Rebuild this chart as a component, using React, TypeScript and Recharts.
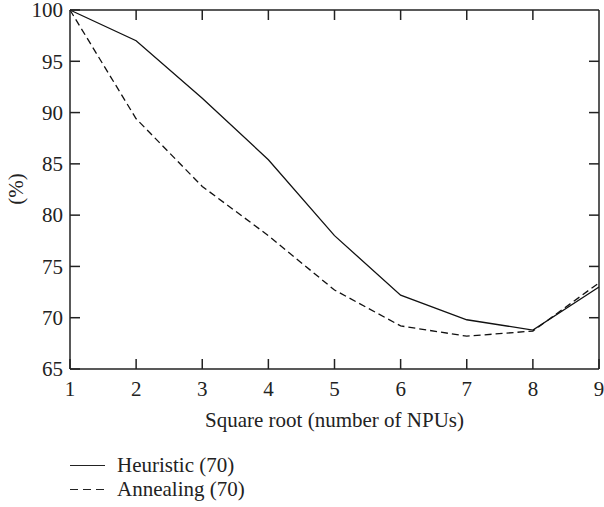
import React from "react";
import { LineChart, Line, XAxis, YAxis, Legend, ReferenceLine } from "recharts";

const xValues = [1, 2, 3, 4, 5, 6, 7, 8, 9];
const heuristic = [100, 97.0, 91.4, 85.4, 78.0, 72.2, 69.8, 68.8, 73.0];
const annealing = [100, 89.4, 82.8, 78.0, 72.7, 69.2, 68.2, 68.7, 73.4];
const xTicks = [1, 2, 3, 4, 5, 6, 7, 8, 9];
const yTicks = [65, 70, 75, 80, 85, 90, 95, 100];

const series = [
  { key: "heuristic", name: "Heuristic (70)", dash: undefined as string | undefined },
  { key: "annealing", name: "Annealing (70)", dash: "7 4" },
];

const data = xValues.map((x, i) => ({ x, heuristic: heuristic[i], annealing: annealing[i] }));

const FONT = "'Liberation Serif', 'DejaVu Serif', serif";
const FS = 21;
const INK = "#222";
const TICK_LEN = 10;

// default tickSize 6 + tickMargin 2 => label anchor sits 8px off the axis
const leftTick = (props: any) => {
  const x = Number(props.x);
  const y = Number(props.y);
  return (
    <g>
      <line x1={x + 8} x2={x + 8 + TICK_LEN} y1={y} y2={y} stroke={INK} strokeWidth={1.5} />
      <text x={x + 1} y={y} dy="0.35em" textAnchor="end" fontFamily={FONT} fontSize={FS} fill={INK}>
        {props.payload.value}
      </text>
    </g>
  );
};

const bottomTick = (props: any) => {
  const x = Number(props.x);
  const y = Number(props.y);
  return (
    <g>
      <line x1={x} x2={x} y1={y - 8} y2={y - 8 - TICK_LEN} stroke={INK} strokeWidth={1.5} />
      <text x={x} y={y + 4} dy="0.71em" textAnchor="middle" fontFamily={FONT} fontSize={FS} fill={INK}>
        {props.payload.value}
      </text>
    </g>
  );
};

const topTickShape = (p: any) => {
  const x = Number(p.x1);
  const top = Math.min(Number(p.y1), Number(p.y2));
  return <line x1={x} x2={x} y1={top} y2={top + TICK_LEN} stroke={INK} strokeWidth={1.5} />;
};

const rightTickShape = (p: any) => {
  const y = Number(p.y1);
  const r = Math.max(Number(p.x1), Number(p.x2));
  return <line x1={r} x2={r - TICK_LEN} y1={y} y2={y} stroke={INK} strokeWidth={1.5} />;
};

const axisTitles = () => (
  <g>
    <text x={334.5} y={427} textAnchor="middle" fontFamily={FONT} fontSize={FS} fill={INK}>
      Square root (number of NPUs)
    </text>
    <text x={23} y={189} transform="rotate(-90, 23, 189)" textAnchor="middle" fontFamily={FONT} fontSize={FS} fill={INK}>
      (%)
    </text>
  </g>
);

const seg = (w: number, ml = 0) => (
  <span style={{ display: "inline-block", width: w, marginLeft: ml, borderTop: `1.3px solid ${INK}`, verticalAlign: "middle" }} />
);

function renderLegend() {
  return (
    <div style={{ paddingLeft: 70, height: 48, fontFamily: FONT, fontSize: FS, color: INK }}>
      {series.map((s) => (
        <div key={s.key} style={{ display: "flex", alignItems: "center", height: 24, lineHeight: "24px" }}>
          <span style={{ display: "inline-flex", width: 35, alignItems: "center" }}>
            {s.dash ? (
              <>
                {seg(8)}
                {seg(8, 5)}
                {seg(8, 5)}
              </>
            ) : (
              seg(35)
            )}
          </span>
          <span style={{ marginLeft: 12, whiteSpace: "nowrap" }}>{s.name}</span>
        </div>
      ))}
    </div>
  );
}

export default function App() {
  return (
    <div style={{ position: "absolute", left: 0, top: 0 }}>
      <LineChart width={604} height={507} data={data} margin={{ top: 10, right: 5, left: 0, bottom: 6 }}>
        <XAxis
          dataKey="x"
          type="number"
          domain={[1, 9]}
          ticks={xTicks}
          height={84}
          tickLine={false}
          axisLine={{ stroke: INK, strokeWidth: 1.5 }}
          tick={bottomTick}
          label={axisTitles}
        />
        <YAxis
          type="number"
          domain={[65, 100]}
          ticks={yTicks}
          width={70}
          tickLine={false}
          axisLine={{ stroke: INK, strokeWidth: 1.5 }}
          tick={leftTick}
        />
        <ReferenceLine y={100} stroke={INK} strokeWidth={1.5} ifOverflow="extendDomain" />
        <ReferenceLine x={9} stroke={INK} strokeWidth={1.5} ifOverflow="extendDomain" />
        {xTicks.slice(1, -1).map((t) => (
          <ReferenceLine key={"xt" + t} x={t} stroke={INK} shape={topTickShape} />
        ))}
        {yTicks.slice(1, -1).map((t) => (
          <ReferenceLine key={"yt" + t} y={t} stroke={INK} shape={rightTickShape} />
        ))}
        <Legend verticalAlign="bottom" align="left" layout="horizontal" content={renderLegend} />
        {series.map((s) => (
          <Line
            key={s.key}
            dataKey={s.key}
            name={s.name}
            stroke="#111"
            strokeWidth={1.3}
            strokeDasharray={s.dash}
            dot={false}
            activeDot={false}
            isAnimationActive={false}
          />
        ))}
      </LineChart>
    </div>
  );
}
